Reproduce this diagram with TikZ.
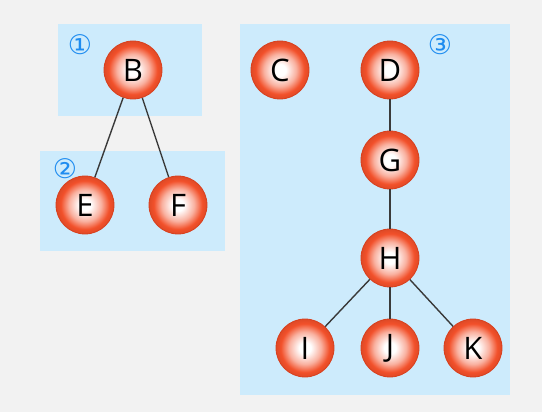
\documentclass[tikz,border=0pt]{standalone}
\usepackage{fontspec}
\setsansfont{Open Sans}
\newfontfamily\symfont{DejaVu Sans}
\usetikzlibrary{positioning}
\definecolor{pagegray}{HTML}{F2F2F2}
\definecolor{zoneblue}{HTML}{CDEBFC}
\definecolor{ballred}{HTML}{F2502A}
\definecolor{ballrim}{HTML}{D8401E}
\definecolor{markblue}{HTML}{1E8CF0}
\definecolor{edgegray}{HTML}{3A3A3A}
\pgfdeclareradialshading{ballshade}{\pgfpoint{0bp}{0bp}}{%
  color(0bp)=(white); color(5bp)=(white);
  color(14bp)=(ballred!45!white); color(21bp)=(ballred);
  color(25bp)=(ballred!92!black); color(50bp)=(ballred!92!black)}

\begin{document}
\begin{tikzpicture}[
    x=1pt, y=-1pt,
    ball/.style={circle, draw=ballrim, line width=0.8pt, minimum size=58pt, inner sep=0pt,
        shading=ballshade,
        font=\sffamily\fontsize{31}{31}\selectfont},
    zone/.style={fill=zoneblue},
    numlabel/.style={text=markblue, font=\symfont\fontsize{27}{27}\selectfont, inner sep=0pt},
    link/.style={draw=edgegray, line width=1.4pt}
]
\useasboundingbox[fill=pagegray] (0,0) rectangle (542,412);
% zones
\fill[zone] (58,24) rectangle (202,116);
\fill[zone] (40,151) rectangle (225,251);
\fill[zone] (240,24) rectangle (510,395);
\node[numlabel] (m1) at (80,45) {①};
\node[numlabel] (m2) at (65,169) {②};
\node[numlabel] (m3) at (440,45) {③};
% balls
\node[ball] (b) at (133,70) {B};
\node[ball] (e) at (85,205) {E};
\node[ball] (f) at (178,205) {F};
\node[ball] (c) at (280,70) {C};
\node[ball] (d) at (390,70) {D};
\node[ball] (g) at (390,160) {G};
\node[ball] (h) at (390,258) {H};
\node[ball] (i) at (305,348) {I};
\node[ball] (j) at (390,348) {J};
\node[ball] (k) at (473,348) {K};
% links
\draw[link] (b) -- (e);
\draw[link] (b) -- (f);
\draw[link] (d) -- (g);
\draw[link] (g) -- (h);
\draw[link] (h) -- (i);
\draw[link] (h) -- (j);
\draw[link] (h) -- (k);
\end{tikzpicture}
\end{document}
